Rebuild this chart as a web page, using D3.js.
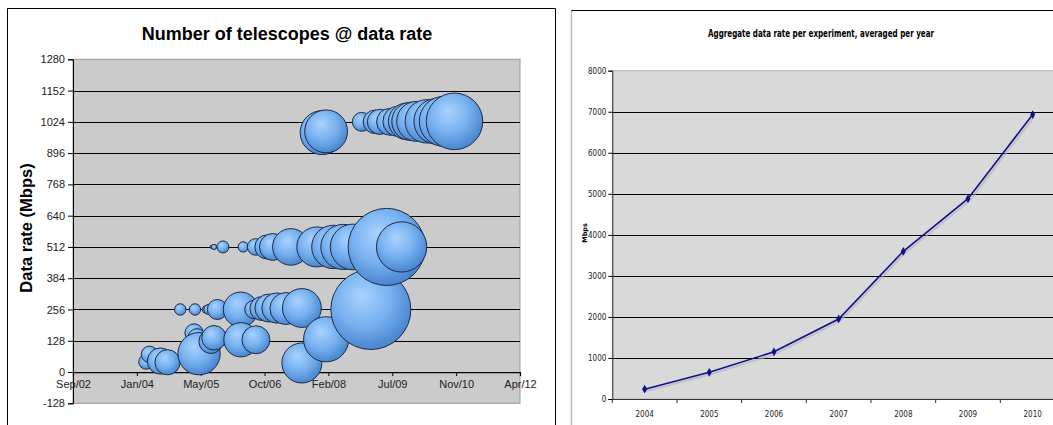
<!DOCTYPE html>
<html><head><meta charset="utf-8">
<script src="https://cdn.jsdelivr.net/npm/d3@7"></script>
<style>body{margin:0;background:#fff;} svg{display:block}</style>
</head><body>
<svg id="c" width="1053" height="425"></svg>
<script>
// ---------- Left chart: bubbles ----------
const leftTitle = "Number of telescopes @ data rate";
const leftYTitle = "Data rate (Mbps)";
const bubbleDates = ["2004-03-27","2004-04-22","2004-07-17","2004-09-10","2004-12-19","2005-04-06","2005-04-13","2005-04-29","2005-05-15","2005-07-11","2005-08-01","2005-08-16","2005-08-22","2005-09-09","2005-09-09","2005-10-05","2005-11-18","2006-04-06","2006-04-08","2006-04-26","2006-07-18","2006-08-01","2006-08-03","2006-09-19","2006-10-28","2006-11-13","2006-12-14","2007-01-15","2007-03-26","2007-05-04","2007-07-29","2007-07-29","2007-11-23","2008-01-04","2008-02-04","2008-02-04","2008-04-01","2008-06-18","2008-09-02","2008-11-09","2009-01-19","2009-02-20","2009-03-31","2009-05-23","2009-06-18","2009-08-20","2009-09-17","2009-10-27","2009-11-29","2010-01-13","2010-04-02","2010-06-19","2010-08-18","2010-11-05"];
const bubbleRates = [42,72,45,40,256,160,256,140,75,256,256,125,512,140,512,256,512,256,132,512,256,512,132,260,512,262,512,262,260,512,37,262,512,980,134,985,512,512,512,1024,256,1024,1024,512,1024,1026,512,1026,1026,1026,1026,1026,1026,1026];
const bubbleTelescopes = [2.6,2.9,4.6,4.4,2.0,3.2,2.0,3.2,7.4,1.4,1.8,4.2,0.6,4.3,0.9,3.5,2.1,6.1,6.0,1.8,3.2,2.9,4.9,4.2,4.2,4.9,4.7,5.3,5.6,6.4,7.0,6.8,7.0,7.7,7.9,7.5,7.6,7.9,8.0,3.3,14.0,4.1,4.4,13.5,4.7,5.3,8.8,6.4,6.7,7.0,7.6,8.0,8.8,9.9];
const xTickDates = ["2002-09-01","2004-01-14","2005-05-28","2006-10-10","2008-02-22","2009-07-06","2010-11-18","2012-04-01"];
const xTickLabels = ["Sep/02","Jan/04","May/05","Oct/06","Feb/08","Jul/09","Nov/10","Apr/12"];
const yTicksLeft = [-128,0,128,256,384,512,640,768,896,1024,1152,1280];

// ---------- Right chart: line ----------
const rightTitle = "Aggregate data rate per experiment, averaged per year";
const rightYTitle = "Mbps";
const years = ["2004","2005","2006","2007","2008","2009","2010"];
const aggregateRate = [240,650,1150,1950,3600,4880,6930];
const yTicksRight = [0,1000,2000,3000,4000,5000,6000,7000,8000];

const svg = d3.select("#c");
const parse = d3.utcParse("%Y-%m-%d");
const plain = d => String(d);

// ===== LEFT CHART =====
const L = {x0:73, x1:520, y0:59.3, y1:403.3};
svg.append("path").attr("d","M7.5,430V8.5H555.5V430").attr("fill","none").attr("stroke","#000").attr("stroke-width",1);

const xL = d3.scaleUtc().domain([parse(xTickDates[0]), parse(xTickDates[xTickDates.length-1])]).range([L.x0, L.x1]);
const yL = d3.scaleLinear().domain([-128,1280]).range([L.y1, L.y0]);
const rL = d3.scaleLinear().domain([0,14]).range([0,40]);

svg.append("rect").attr("x",L.x0).attr("y",L.y0).attr("width",L.x1-L.x0).attr("height",L.y1-L.y0)
  .attr("fill","#cbcbcb").attr("stroke","#9a9a9a").attr("stroke-width",1);

// gridlines
svg.append("g").selectAll("line").data(yTicksLeft.filter(v=>v>-128 && v<1280)).join("line")
  .attr("x1",L.x0).attr("x2",L.x1).attr("y1",d=>Math.round(yL(d))+0.5).attr("y2",d=>Math.round(yL(d))+0.5)
  .attr("stroke","#000").attr("stroke-width",1.2);

// y axis
const yAxisL = svg.append("g").attr("transform",`translate(${L.x0},0)`)
  .call(d3.axisLeft(yL).tickValues(yTicksLeft).tickFormat(plain).tickSize(5).tickPadding(3));
yAxisL.select(".domain").attr("stroke","#000");
yAxisL.selectAll("text").attr("font-family","Liberation Sans, Arial, sans-serif").attr("font-size",11).attr("fill","#222");

// x axis at 0
const xAxisL = svg.append("g").attr("transform",`translate(0,${yL(0)})`)
  .call(d3.axisBottom(xL).tickValues(xTickDates.map(parse)).tickFormat((d,i)=>xTickLabels[i]).tickSize(4).tickPadding(4));
xAxisL.select(".domain").attr("stroke","#000").attr("stroke-width",1.2);
xAxisL.selectAll("text").attr("font-family","Liberation Sans, Arial, sans-serif").attr("font-size",11).attr("fill","#222");

// bubbles gradient
const defs = svg.append("defs");
const g = defs.append("radialGradient").attr("id","bub").attr("cx","42%").attr("cy","38%").attr("r","62%").attr("fx","38%").attr("fy","32%");
g.append("stop").attr("offset","0%").attr("stop-color","#a9d2ff");
g.append("stop").attr("offset","55%").attr("stop-color","#78b2f0");
g.append("stop").attr("offset","100%").attr("stop-color","#4a86cf");

const bubbles = bubbleDates.map((d,i)=>({date:parse(d), rate:bubbleRates[i], n:bubbleTelescopes[i]}));
svg.append("g").selectAll("circle").data(bubbles).join("circle")
  .attr("cx",d=>xL(d.date)).attr("cy",d=>yL(d.rate)).attr("r",d=>rL(d.n))
  .attr("fill","url(#bub)").attr("stroke","#1d2c45").attr("stroke-width",1);

svg.append("text").attr("x",287).attr("y",40).attr("text-anchor","middle")
  .attr("font-family","Liberation Sans, Arial, sans-serif").attr("font-weight","bold").attr("font-size",18).text(leftTitle);
svg.append("text").attr("transform","translate(32,228) rotate(-90)").attr("text-anchor","middle")
  .attr("font-family","Liberation Sans, Arial, sans-serif").attr("font-weight","bold").attr("font-size",16.5).text(leftYTitle);

// ===== RIGHT CHART =====
const R = {x0:612.3, x1:1065, y0:70.7, y1:399};
svg.append("path").attr("d","M571.5,430V10.5H1060").attr("fill","none").attr("stroke","#000").attr("stroke-width",1);
svg.append("line").attr("x1",571.5).attr("x2",571.5).attr("y1",11).attr("y2",430).attr("stroke","#bbb").attr("stroke-width",1.5);

const xR = d3.scaleBand().domain(years).range([R.x0, R.x1]);
const yR = d3.scaleLinear().domain([0,8000]).range([R.y1, R.y0]);

svg.append("rect").attr("x",R.x0).attr("y",R.y0).attr("width",R.x1-R.x0).attr("height",R.y1-R.y0)
  .attr("fill","#d9d9d9").attr("stroke","#b5b5b5").attr("stroke-width",1);
svg.append("g").selectAll("line").data(yTicksRight.filter(v=>v>0 && v<8000)).join("line")
  .attr("x1",R.x0).attr("x2",R.x1).attr("y1",d=>Math.round(yR(d))+0.5).attr("y2",d=>Math.round(yR(d))+0.5)
  .attr("stroke","#000").attr("stroke-width",1);

const condensed = "DejaVu Sans Condensed, DejaVu Sans, sans-serif";
const yAxisR = svg.append("g").attr("transform",`translate(${R.x0},0)`)
  .call(d3.axisLeft(yR).tickValues(yTicksRight).tickFormat(plain).tickSize(4).tickPadding(2));
yAxisR.select(".domain").attr("stroke","#333");
yAxisR.selectAll("text").attr("font-family",condensed).attr("font-stretch","condensed").attr("font-size",8).attr("fill","#222");

const xAxisR = svg.append("g").attr("transform",`translate(0,${R.y1})`);
xAxisR.append("line").attr("x1",R.x0).attr("x2",R.x1).attr("y1",0.5).attr("y2",0.5).attr("stroke","#333");
xAxisR.selectAll("line.tk").data(years).join("line").attr("class","tk")
  .attr("x1",d=>xR(d)).attr("x2",d=>xR(d)).attr("y1",0).attr("y2",4).attr("stroke","#333");
xAxisR.selectAll("text").data(years).join("text")
  .attr("x",d=>xR(d)+xR.bandwidth()/2).attr("y",18).attr("text-anchor","middle")
  .attr("font-family",condensed).attr("font-stretch","condensed").attr("font-size",8).attr("fill","#222").text(d=>d);

const pts = years.map((y,i)=>[xR(y)+xR.bandwidth()/2, yR(aggregateRate[i])]);
const line = d3.line();
svg.append("path").attr("d",line(pts.map(p=>[p[0]+1.5,p[1]+2]))).attr("fill","none").attr("stroke","#b0b0b8").attr("stroke-width",2).attr("opacity",0.6);
svg.append("path").attr("d",line(pts)).attr("fill","none").attr("stroke","#10108c").attr("stroke-width",1.6);
svg.append("g").selectAll("path").data(pts).join("path")
  .attr("transform",p=>`translate(${p[0]},${p[1]})`)
  .attr("d",d3.symbol(d3.symbolDiamond,22)).attr("fill","#10108c");

svg.append("text").attr("x",821).attr("y",37).attr("text-anchor","middle")
  .attr("font-family",condensed).attr("font-stretch","condensed").attr("font-weight","bold").attr("font-size",10)
  .attr("textLength",226).attr("lengthAdjust","spacingAndGlyphs").text(rightTitle);
svg.append("text").attr("transform","translate(587,233) rotate(-90)").attr("text-anchor","middle")
  .attr("font-family","DejaVu Sans, sans-serif").attr("font-weight","bold").attr("font-size",6.5).text(rightYTitle);
</script>
</body></html>
